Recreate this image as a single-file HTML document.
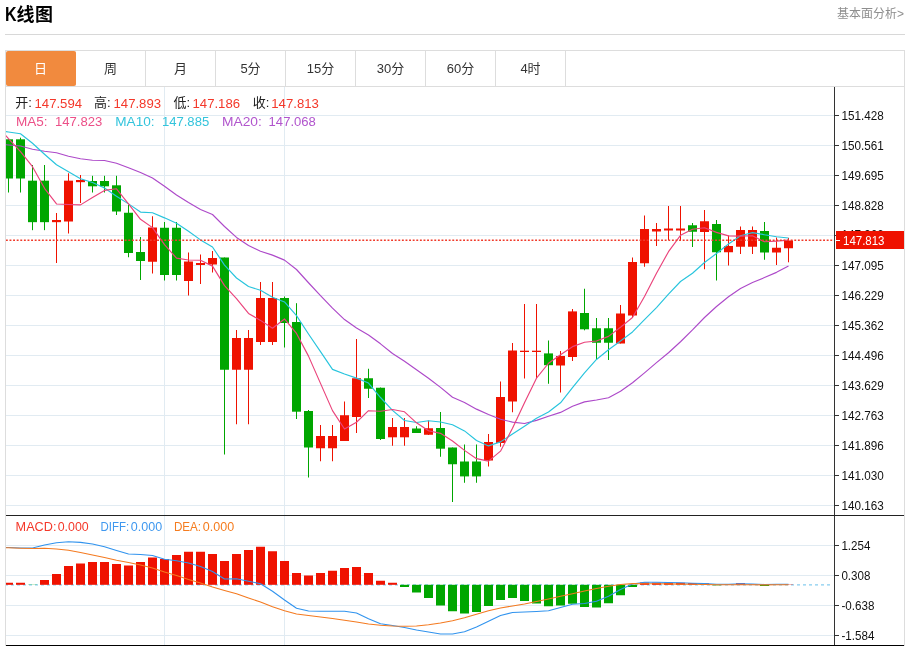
<!DOCTYPE html>
<html lang="zh-CN"><head><meta charset="utf-8"><title>K线图</title>
<style>
html,body{margin:0;padding:0;background:#fff;}
body{width:911px;height:646px;overflow:hidden;position:relative;font-family:"Liberation Sans","Noto Sans CJK SC",sans-serif;}
.title{position:absolute;left:0;top:0;font-weight:bold;color:#000;white-space:nowrap;}
.title .k{position:absolute;left:5px;top:1.65px;font-size:20px;line-height:24px;transform:scaleX(0.80);transform-origin:0 0;}
.title .cj{position:absolute;left:16.5px;top:2.9px;font-size:18px;line-height:24px;letter-spacing:0.5px;}
.more{position:absolute;right:7px;top:4.8px;font-size:12px;color:#8e8e8e;line-height:18px;white-space:nowrap;}
.hr{position:absolute;left:5px;top:34px;width:900px;height:1px;background:#d8d8d8;}
.box{position:absolute;left:5px;top:50px;width:898px;height:620px;border:1px solid #ddd;}
.tabs{position:absolute;left:0;top:0;width:898px;height:35px;border-bottom:1px solid #ddd;}
.tab{position:absolute;top:0;width:69px;height:35px;border-right:1px solid #ddd;text-align:center;line-height:36px;font-size:13px;color:#333;}
.tab.on{background:#f18a3e;color:#fff;border-radius:2px;border-right-color:#f18a3e;}
svg{position:absolute;left:0;top:0;}
.ax{font-family:"Liberation Sans",sans-serif;font-size:13px;fill:#111;}
.t13{font-family:"Liberation Sans","Noto Sans CJK SC",sans-serif;font-size:13.5px;}
.t12{font-family:"Liberation Sans","Noto Sans CJK SC",sans-serif;font-size:13px;}
</style></head><body>
<div class="title"><span class="k">K</span><span class="cj">线图</span></div>
<div class="more">基本面分析&gt;</div>
<div class="hr"></div>
<div class="box"><div class="tabs">
<div class="tab on" style="left:0">日</div>
<div class="tab" style="left:70px">周</div>
<div class="tab" style="left:140px">月</div>
<div class="tab" style="left:210px">5分</div>
<div class="tab" style="left:280px">15分</div>
<div class="tab" style="left:350px">30分</div>
<div class="tab" style="left:420px">60分</div>
<div class="tab" style="left:490px">4时</div>
</div></div>
<svg width="911" height="646" viewBox="0 0 911 646">
<defs><clipPath id="cp"><rect x="6" y="87" width="828" height="559"/></clipPath></defs>
<g clip-path="url(#cp)">
<g shape-rendering="crispEdges">
<rect x="6" y="115" width="828" height="1" fill="#e1ebf2"/>
<rect x="6" y="145" width="828" height="1" fill="#e1ebf2"/>
<rect x="6" y="175" width="828" height="1" fill="#e1ebf2"/>
<rect x="6" y="205" width="828" height="1" fill="#e1ebf2"/>
<rect x="6" y="235" width="828" height="1" fill="#e1ebf2"/>
<rect x="6" y="265" width="828" height="1" fill="#e1ebf2"/>
<rect x="6" y="295" width="828" height="1" fill="#e1ebf2"/>
<rect x="6" y="325" width="828" height="1" fill="#e1ebf2"/>
<rect x="6" y="355" width="828" height="1" fill="#e1ebf2"/>
<rect x="6" y="385" width="828" height="1" fill="#e1ebf2"/>
<rect x="6" y="415" width="828" height="1" fill="#e1ebf2"/>
<rect x="6" y="445" width="828" height="1" fill="#e1ebf2"/>
<rect x="6" y="475" width="828" height="1" fill="#e1ebf2"/>
<rect x="6" y="505" width="828" height="1" fill="#e1ebf2"/>
<rect x="6" y="545" width="828" height="1" fill="#e1ebf2"/>
<rect x="6" y="575" width="828" height="1" fill="#e1ebf2"/>
<rect x="6" y="605" width="828" height="1" fill="#e1ebf2"/>
<rect x="6" y="635" width="828" height="1" fill="#e1ebf2"/>
<rect x="164" y="87" width="1" height="558" fill="#e1ebf2"/>
<rect x="284" y="87" width="1" height="558" fill="#e1ebf2"/>
</g>
<g>
<rect x="8" y="139.30" width="1" height="53.20" fill="#00a600"/>
<rect x="4" y="139.30" width="9" height="39.20" fill="#00a600"/>
<rect x="20" y="137.67" width="1" height="54.83" fill="#00a600"/>
<rect x="16" y="139.30" width="9" height="39.20" fill="#00a600"/>
<rect x="32" y="165.00" width="1" height="65.17" fill="#00a600"/>
<rect x="28" y="180.67" width="9" height="41.50" fill="#00a600"/>
<rect x="44" y="165.00" width="1" height="65.17" fill="#00a600"/>
<rect x="40" y="180.67" width="9" height="41.50" fill="#00a600"/>
<rect x="56" y="213.00" width="1" height="50.00" fill="#ef1200"/>
<rect x="52" y="220.00" width="9" height="2.17" fill="#ef1200"/>
<rect x="68" y="173.30" width="1" height="60.20" fill="#ef1200"/>
<rect x="64" y="180.67" width="9" height="40.83" fill="#ef1200"/>
<rect x="80" y="175.00" width="1" height="28.00" fill="#ef1200"/>
<rect x="76" y="180.00" width="9" height="2.17" fill="#ef1200"/>
<rect x="92" y="175.80" width="1" height="16.70" fill="#00a600"/>
<rect x="88" y="181.00" width="9" height="5.30" fill="#00a600"/>
<rect x="104" y="175.80" width="1" height="16.70" fill="#00a600"/>
<rect x="100" y="181.00" width="9" height="5.30" fill="#00a600"/>
<rect x="116" y="175.80" width="1" height="39.20" fill="#00a600"/>
<rect x="112" y="185.30" width="9" height="26.20" fill="#00a600"/>
<rect x="128" y="205.00" width="1" height="52.25" fill="#00a600"/>
<rect x="124" y="212.75" width="9" height="40.25" fill="#00a600"/>
<rect x="140" y="237.00" width="1" height="43.00" fill="#00a600"/>
<rect x="136" y="252.00" width="9" height="9.00" fill="#00a600"/>
<rect x="152" y="216.25" width="1" height="57.25" fill="#ef1200"/>
<rect x="148" y="227.50" width="9" height="34.25" fill="#ef1200"/>
<rect x="164" y="222.00" width="1" height="58.50" fill="#00a600"/>
<rect x="160" y="227.75" width="9" height="47.25" fill="#00a600"/>
<rect x="176" y="222.00" width="1" height="58.50" fill="#00a600"/>
<rect x="172" y="227.75" width="9" height="47.25" fill="#00a600"/>
<rect x="188" y="252.50" width="1" height="43.00" fill="#ef1200"/>
<rect x="184" y="261.50" width="9" height="19.50" fill="#ef1200"/>
<rect x="200" y="254.50" width="1" height="29.50" fill="#ef1200"/>
<rect x="196" y="263.00" width="9" height="2.00" fill="#ef1200"/>
<rect x="212" y="251.00" width="1" height="21.50" fill="#ef1200"/>
<rect x="208" y="258.00" width="9" height="6.50" fill="#ef1200"/>
<rect x="224" y="257.50" width="1" height="197.00" fill="#00a600"/>
<rect x="220" y="257.50" width="9" height="112.25" fill="#00a600"/>
<rect x="236" y="330.00" width="1" height="94.25" fill="#ef1200"/>
<rect x="232" y="338.00" width="9" height="31.75" fill="#ef1200"/>
<rect x="248" y="330.00" width="1" height="94.25" fill="#ef1200"/>
<rect x="244" y="338.00" width="9" height="31.75" fill="#ef1200"/>
<rect x="260" y="282.00" width="1" height="63.00" fill="#ef1200"/>
<rect x="256" y="298.00" width="9" height="44.00" fill="#ef1200"/>
<rect x="272" y="282.00" width="1" height="63.00" fill="#ef1200"/>
<rect x="268" y="298.00" width="9" height="44.00" fill="#ef1200"/>
<rect x="284" y="296.50" width="1" height="51.00" fill="#00a600"/>
<rect x="280" y="298.00" width="9" height="25.00" fill="#00a600"/>
<rect x="296" y="303.20" width="1" height="115.80" fill="#00a600"/>
<rect x="292" y="322.00" width="9" height="89.70" fill="#00a600"/>
<rect x="308" y="410.00" width="1" height="67.50" fill="#00a600"/>
<rect x="304" y="411.00" width="9" height="36.50" fill="#00a600"/>
<rect x="320" y="425.00" width="1" height="36.25" fill="#ef1200"/>
<rect x="316" y="436.00" width="9" height="12.25" fill="#ef1200"/>
<rect x="332" y="425.00" width="1" height="36.25" fill="#ef1200"/>
<rect x="328" y="436.00" width="9" height="12.25" fill="#ef1200"/>
<rect x="344" y="401.50" width="1" height="39.50" fill="#ef1200"/>
<rect x="340" y="415.25" width="9" height="25.75" fill="#ef1200"/>
<rect x="356" y="339.00" width="1" height="94.00" fill="#ef1200"/>
<rect x="352" y="378.25" width="9" height="38.75" fill="#ef1200"/>
<rect x="368" y="368.75" width="1" height="29.25" fill="#00a600"/>
<rect x="364" y="378.25" width="9" height="10.50" fill="#00a600"/>
<rect x="380" y="387.50" width="1" height="52.50" fill="#00a600"/>
<rect x="376" y="387.75" width="9" height="51.25" fill="#00a600"/>
<rect x="392" y="418.00" width="1" height="27.75" fill="#ef1200"/>
<rect x="388" y="427.00" width="9" height="10.30" fill="#ef1200"/>
<rect x="404" y="418.00" width="1" height="27.75" fill="#ef1200"/>
<rect x="400" y="427.00" width="9" height="10.30" fill="#ef1200"/>
<rect x="416" y="426.25" width="1" height="6.75" fill="#00a600"/>
<rect x="412" y="428.50" width="9" height="4.50" fill="#00a600"/>
<rect x="428" y="420.50" width="1" height="14.50" fill="#ef1200"/>
<rect x="424" y="428.25" width="9" height="6.50" fill="#ef1200"/>
<rect x="440" y="412.00" width="1" height="44.75" fill="#00a600"/>
<rect x="436" y="428.00" width="9" height="20.70" fill="#00a600"/>
<rect x="452" y="447.50" width="1" height="54.50" fill="#00a600"/>
<rect x="448" y="447.50" width="9" height="16.75" fill="#00a600"/>
<rect x="464" y="444.50" width="1" height="38.25" fill="#00a600"/>
<rect x="460" y="461.50" width="9" height="14.90" fill="#00a600"/>
<rect x="476" y="444.50" width="1" height="38.25" fill="#00a600"/>
<rect x="472" y="461.50" width="9" height="14.90" fill="#00a600"/>
<rect x="488" y="434.00" width="1" height="32.50" fill="#ef1200"/>
<rect x="484" y="442.00" width="9" height="18.50" fill="#ef1200"/>
<rect x="500" y="381.50" width="1" height="65.25" fill="#ef1200"/>
<rect x="496" y="397.00" width="9" height="46.00" fill="#ef1200"/>
<rect x="512" y="343.00" width="1" height="69.25" fill="#ef1200"/>
<rect x="508" y="350.50" width="9" height="51.00" fill="#ef1200"/>
<rect x="524" y="304.00" width="1" height="74.50" fill="#ef1200"/>
<rect x="520" y="350.70" width="9" height="1.30" fill="#ef1200"/>
<rect x="536" y="304.00" width="1" height="74.30" fill="#ef1200"/>
<rect x="532" y="350.70" width="9" height="1.30" fill="#ef1200"/>
<rect x="548" y="340.50" width="1" height="43.25" fill="#00a600"/>
<rect x="544" y="353.40" width="9" height="11.80" fill="#00a600"/>
<rect x="560" y="351.00" width="1" height="41.50" fill="#ef1200"/>
<rect x="556" y="356.00" width="9" height="9.50" fill="#ef1200"/>
<rect x="572" y="309.00" width="1" height="52.00" fill="#ef1200"/>
<rect x="568" y="311.40" width="9" height="45.60" fill="#ef1200"/>
<rect x="584" y="288.75" width="1" height="41.55" fill="#00a600"/>
<rect x="580" y="313.00" width="9" height="16.30" fill="#00a600"/>
<rect x="596" y="318.00" width="1" height="42.00" fill="#00a600"/>
<rect x="592" y="328.25" width="9" height="14.50" fill="#00a600"/>
<rect x="608" y="318.00" width="1" height="42.00" fill="#00a600"/>
<rect x="604" y="328.25" width="9" height="14.50" fill="#00a600"/>
<rect x="620" y="305.00" width="1" height="38.50" fill="#ef1200"/>
<rect x="616" y="313.50" width="9" height="30.00" fill="#ef1200"/>
<rect x="632" y="257.50" width="1" height="59.50" fill="#ef1200"/>
<rect x="628" y="262.00" width="9" height="53.50" fill="#ef1200"/>
<rect x="644" y="215.50" width="1" height="51.25" fill="#ef1200"/>
<rect x="640" y="229.00" width="9" height="34.25" fill="#ef1200"/>
<rect x="656" y="223.00" width="1" height="23.00" fill="#ef1200"/>
<rect x="652" y="229.00" width="9" height="2.50" fill="#ef1200"/>
<rect x="668" y="206.00" width="1" height="34.00" fill="#ef1200"/>
<rect x="664" y="228.50" width="9" height="2.00" fill="#ef1200"/>
<rect x="680" y="206.00" width="1" height="34.00" fill="#ef1200"/>
<rect x="676" y="228.50" width="9" height="2.00" fill="#ef1200"/>
<rect x="692" y="223.00" width="1" height="24.00" fill="#00a600"/>
<rect x="688" y="225.25" width="9" height="6.50" fill="#00a600"/>
<rect x="704" y="210.00" width="1" height="59.25" fill="#ef1200"/>
<rect x="700" y="221.25" width="9" height="10.75" fill="#ef1200"/>
<rect x="716" y="220.00" width="1" height="60.50" fill="#00a600"/>
<rect x="712" y="224.00" width="9" height="28.25" fill="#00a600"/>
<rect x="728" y="235.50" width="1" height="30.00" fill="#ef1200"/>
<rect x="724" y="246.00" width="9" height="6.25" fill="#ef1200"/>
<rect x="740" y="226.50" width="1" height="27.50" fill="#ef1200"/>
<rect x="736" y="230.00" width="9" height="16.75" fill="#ef1200"/>
<rect x="752" y="226.50" width="1" height="27.50" fill="#ef1200"/>
<rect x="748" y="230.00" width="9" height="16.75" fill="#ef1200"/>
<rect x="764" y="222.00" width="1" height="37.75" fill="#00a600"/>
<rect x="760" y="231.00" width="9" height="21.50" fill="#00a600"/>
<rect x="776" y="237.50" width="1" height="27.50" fill="#ef1200"/>
<rect x="772" y="247.75" width="9" height="4.75" fill="#ef1200"/>
<rect x="788" y="237.90" width="1" height="24.40" fill="#ef1200"/>
<rect x="784" y="240.50" width="9" height="7.75" fill="#ef1200"/>
</g>
<line x1="5" y1="584.8" x2="832" y2="584.8" stroke="#86cdf0" stroke-width="1.3" stroke-dasharray="3 3"/>
<g>
<rect x="4" y="582.75" width="9" height="2.05" fill="#ef1200"/>
<rect x="16" y="582.75" width="9" height="2.05" fill="#ef1200"/>
<rect x="28" y="584.80" width="9" height="0.20" fill="#00a600"/>
<rect x="40" y="580.00" width="9" height="4.80" fill="#ef1200"/>
<rect x="52" y="574.00" width="9" height="10.80" fill="#ef1200"/>
<rect x="64" y="566.00" width="9" height="18.80" fill="#ef1200"/>
<rect x="76" y="563.50" width="9" height="21.30" fill="#ef1200"/>
<rect x="88" y="562.00" width="9" height="22.80" fill="#ef1200"/>
<rect x="100" y="562.00" width="9" height="22.80" fill="#ef1200"/>
<rect x="112" y="564.00" width="9" height="20.80" fill="#ef1200"/>
<rect x="124" y="565.50" width="9" height="19.30" fill="#ef1200"/>
<rect x="136" y="562.00" width="9" height="22.80" fill="#ef1200"/>
<rect x="148" y="557.50" width="9" height="27.30" fill="#ef1200"/>
<rect x="160" y="559.00" width="9" height="25.80" fill="#ef1200"/>
<rect x="172" y="555.00" width="9" height="29.80" fill="#ef1200"/>
<rect x="184" y="551.75" width="9" height="33.05" fill="#ef1200"/>
<rect x="196" y="551.75" width="9" height="33.05" fill="#ef1200"/>
<rect x="208" y="554.00" width="9" height="30.80" fill="#ef1200"/>
<rect x="220" y="561.00" width="9" height="23.80" fill="#ef1200"/>
<rect x="232" y="554.00" width="9" height="30.80" fill="#ef1200"/>
<rect x="244" y="550.00" width="9" height="34.80" fill="#ef1200"/>
<rect x="256" y="546.75" width="9" height="38.05" fill="#ef1200"/>
<rect x="268" y="551.25" width="9" height="33.55" fill="#ef1200"/>
<rect x="280" y="561.00" width="9" height="23.80" fill="#ef1200"/>
<rect x="292" y="573.00" width="9" height="11.80" fill="#ef1200"/>
<rect x="304" y="575.50" width="9" height="9.30" fill="#ef1200"/>
<rect x="316" y="573.00" width="9" height="11.80" fill="#ef1200"/>
<rect x="328" y="570.75" width="9" height="14.05" fill="#ef1200"/>
<rect x="340" y="568.00" width="9" height="16.80" fill="#ef1200"/>
<rect x="352" y="567.00" width="9" height="17.80" fill="#ef1200"/>
<rect x="364" y="573.00" width="9" height="11.80" fill="#ef1200"/>
<rect x="376" y="580.75" width="9" height="4.05" fill="#ef1200"/>
<rect x="388" y="582.75" width="9" height="2.05" fill="#ef1200"/>
<rect x="400" y="584.80" width="9" height="2.20" fill="#00a600"/>
<rect x="412" y="584.80" width="9" height="7.70" fill="#00a600"/>
<rect x="424" y="584.80" width="9" height="13.20" fill="#00a600"/>
<rect x="436" y="584.80" width="9" height="20.70" fill="#00a600"/>
<rect x="448" y="584.80" width="9" height="26.45" fill="#00a600"/>
<rect x="460" y="584.80" width="9" height="28.70" fill="#00a600"/>
<rect x="472" y="584.80" width="9" height="27.20" fill="#00a600"/>
<rect x="484" y="584.80" width="9" height="21.20" fill="#00a600"/>
<rect x="496" y="584.80" width="9" height="15.20" fill="#00a600"/>
<rect x="508" y="584.80" width="9" height="13.20" fill="#00a600"/>
<rect x="520" y="584.80" width="9" height="16.20" fill="#00a600"/>
<rect x="532" y="584.80" width="9" height="18.70" fill="#00a600"/>
<rect x="544" y="584.80" width="9" height="21.45" fill="#00a600"/>
<rect x="556" y="584.80" width="9" height="20.70" fill="#00a600"/>
<rect x="568" y="584.80" width="9" height="18.95" fill="#00a600"/>
<rect x="580" y="584.80" width="9" height="22.20" fill="#00a600"/>
<rect x="592" y="584.80" width="9" height="22.70" fill="#00a600"/>
<rect x="604" y="584.80" width="9" height="18.45" fill="#00a600"/>
<rect x="616" y="584.80" width="9" height="10.45" fill="#00a600"/>
<rect x="628" y="584.80" width="9" height="2.20" fill="#00a600"/>
<rect x="640" y="582.50" width="9" height="2.30" fill="#ef1200"/>
<rect x="652" y="582.70" width="9" height="2.10" fill="#ef1200"/>
<rect x="664" y="582.70" width="9" height="2.10" fill="#ef1200"/>
<rect x="676" y="582.80" width="9" height="2.00" fill="#ef1200"/>
<rect x="688" y="583.00" width="9" height="1.80" fill="#ef1200"/>
<rect x="700" y="583.30" width="9" height="1.50" fill="#ef1200"/>
<rect x="712" y="584.80" width="9" height="0.50" fill="#00a600"/>
<rect x="724" y="584.50" width="9" height="0.30" fill="#ef1200"/>
<rect x="736" y="583.20" width="9" height="1.60" fill="#ef1200"/>
<rect x="748" y="584.50" width="9" height="0.30" fill="#ef1200"/>
<rect x="760" y="584.80" width="9" height="1.20" fill="#00a600"/>
<rect x="784" y="584.50" width="9" height="0.30" fill="#ef1200"/>
</g>
<polyline points="-3.5,143.80 8.5,145.00 20.5,146.00 32.5,149.20 44.5,151.30 56.5,152.70 68.5,156.30 80.5,158.70 92.5,160.30 104.5,160.50 116.5,163.30 128.5,167.70 140.5,172.50 152.5,178.00 164.5,186.25 176.5,195.00 188.5,202.50 200.5,209.50 212.5,214.50 224.5,226.50 236.5,237.42 248.5,245.59 260.5,251.32 272.5,255.10 284.5,260.13 296.5,269.51 308.5,282.76 320.5,295.68 332.5,308.17 344.5,319.56 356.5,328.00 368.5,334.97 380.5,343.83 392.5,353.50 404.5,361.33 416.5,369.81 428.5,378.25 440.5,387.41 452.5,397.20 464.5,402.45 476.5,409.14 488.5,414.48 500.5,419.25 512.5,422.10 524.5,423.51 536.5,420.35 548.5,416.26 560.5,412.39 572.5,406.28 584.5,401.87 596.5,399.97 608.5,397.69 620.5,391.23 632.5,382.79 644.5,372.87 656.5,362.66 668.5,352.79 680.5,341.72 692.5,329.88 704.5,317.50 716.5,306.46 728.5,296.74 740.5,288.41 752.5,282.52 764.5,277.59 776.5,272.35 788.5,266.11" fill="none" stroke="#ad49c9" stroke-width="1.15" stroke-linejoin="round"/><polyline points="-3.5,130.30 8.5,132.00 20.5,133.70 32.5,143.30 44.5,154.20 56.5,164.70 68.5,171.70 80.5,178.70 92.5,182.50 104.5,188.00 116.5,196.21 128.5,203.87 140.5,212.06 152.5,212.76 164.5,217.85 176.5,223.35 188.5,231.28 200.5,239.88 212.5,246.95 224.5,265.08 236.5,278.01 248.5,286.57 260.5,290.28 272.5,297.32 284.5,301.98 296.5,315.67 308.5,334.00 320.5,351.60 332.5,369.38 344.5,374.05 356.5,378.13 368.5,383.06 380.5,397.51 392.5,410.43 404.5,420.48 416.5,422.52 428.5,420.70 440.5,422.03 452.5,424.77 464.5,430.92 476.5,440.47 488.5,445.90 500.5,441.88 512.5,434.08 524.5,426.29 536.5,418.24 548.5,411.95 560.5,402.81 572.5,387.60 584.5,372.81 596.5,359.48 608.5,349.72 620.5,340.96 632.5,331.95 644.5,319.69 656.5,307.57 668.5,294.06 680.5,281.50 692.5,273.28 704.5,262.49 716.5,253.51 728.5,244.07 740.5,235.74 752.5,232.59 764.5,234.79 776.5,236.70 788.5,238.04" fill="none" stroke="#27c4dd" stroke-width="1.15" stroke-linejoin="round"/><polyline points="-3.5,124.80 8.5,138.70 20.5,151.70 32.5,166.70 44.5,188.30 56.5,203.95 68.5,204.48 80.5,204.88 92.5,197.55 104.5,190.42 116.5,188.79 128.5,203.81 140.5,219.34 152.5,227.64 164.5,244.70 176.5,258.10 188.5,260.00 200.5,260.30 212.5,266.12 224.5,285.65 236.5,298.54 248.5,313.45 260.5,320.39 272.5,328.26 284.5,318.94 296.5,333.43 308.5,356.11 320.5,383.37 332.5,410.63 344.5,429.03 356.5,422.26 368.5,410.70 380.5,411.21 392.5,409.49 404.5,411.81 416.5,422.84 428.5,430.76 440.5,433.34 452.5,440.93 464.5,450.40 476.5,458.66 488.5,461.16 500.5,451.16 512.5,428.22 524.5,402.87 536.5,378.13 548.5,363.24 560.5,354.78 572.5,346.66 584.5,342.20 596.5,341.01 608.5,336.39 620.5,327.20 632.5,317.55 644.5,296.50 656.5,273.31 668.5,251.68 680.5,235.36 692.5,229.20 704.5,227.73 716.5,232.34 728.5,235.84 740.5,236.06 752.5,235.80 764.5,241.80 776.5,241.06 788.5,240.11" fill="none" stroke="#ea437b" stroke-width="1.15" stroke-linejoin="round"/>
<polyline points="-3.5,547.30 8.5,547.50 20.5,548.00 32.5,548.00 44.5,545.00 56.5,542.80 68.5,541.70 80.5,542.40 92.5,544.00 104.5,546.75 116.5,550.50 128.5,554.00 140.5,554.50 152.5,555.50 164.5,559.25 176.5,560.75 188.5,563.00 200.5,566.50 212.5,571.50 224.5,579.00 236.5,578.75 248.5,581.25 260.5,583.75 272.5,591.25 284.5,600.00 296.5,608.25 308.5,611.00 320.5,611.25 332.5,611.25 344.5,611.25 356.5,613.00 368.5,618.75 380.5,623.75 392.5,625.50 404.5,627.50 416.5,630.00 428.5,632.00 440.5,634.00 452.5,634.00 464.5,631.75 476.5,627.00 488.5,621.25 500.5,615.50 512.5,612.50 524.5,612.00 536.5,611.50 548.5,610.75 560.5,607.50 572.5,604.25 584.5,603.50 596.5,601.25 608.5,596.25 620.5,589.50 632.5,584.00 644.5,582.30 656.5,582.30 668.5,582.50 680.5,582.80 692.5,583.20 704.5,583.60 716.5,584.30 728.5,584.30 740.5,583.80 752.5,584.00 764.5,584.50 776.5,584.30 788.5,584.20" fill="none" stroke="#3093ee" stroke-width="1.08" stroke-linejoin="round"/><polyline points="-3.5,547.60 8.5,547.75 20.5,548.25 32.5,548.50 44.5,548.25 56.5,549.00 68.5,550.25 80.5,552.50 92.5,555.00 104.5,557.50 116.5,560.25 128.5,562.50 140.5,565.00 152.5,568.00 164.5,572.00 176.5,575.50 188.5,579.50 200.5,583.00 212.5,587.00 224.5,590.50 236.5,593.75 248.5,598.00 260.5,602.00 272.5,606.75 284.5,610.75 296.5,614.00 308.5,615.50 320.5,617.00 332.5,618.50 344.5,620.25 356.5,622.00 368.5,624.00 380.5,625.25 392.5,626.00 404.5,626.25 416.5,626.00 428.5,624.75 440.5,623.00 452.5,620.75 464.5,617.75 476.5,614.25 488.5,610.75 500.5,608.00 512.5,606.00 524.5,604.00 536.5,601.50 548.5,599.00 560.5,596.25 572.5,593.75 584.5,591.00 596.5,588.50 608.5,586.25 620.5,584.50 632.5,583.60 644.5,583.80 656.5,583.80 668.5,583.90 680.5,584.10 692.5,584.30 704.5,584.50 716.5,584.70 728.5,584.80 740.5,584.70 752.5,584.80 764.5,584.90 776.5,584.80 788.5,584.80" fill="none" stroke="#f47a20" stroke-width="1.08" stroke-linejoin="round"/>
<line x1="5.9" y1="240.25" x2="834" y2="240.25" stroke="#f03a2a" stroke-width="1.3" stroke-dasharray="1.9 1.7"/>
</g>
<g shape-rendering="crispEdges">
<rect x="834" y="87" width="1" height="559" fill="#333"/>
<rect x="6" y="515" width="898" height="1" fill="#222"/>
<rect x="6" y="645" width="898" height="1" fill="#000"/>
</g>
<rect x="835" y="115" width="4" height="1" fill="#333"/>
<text x="841.4" y="119.6" class="ax" textLength="42.3" lengthAdjust="spacingAndGlyphs">151.428</text>
<rect x="835" y="145" width="4" height="1" fill="#333"/>
<text x="841.4" y="149.6" class="ax" textLength="42.3" lengthAdjust="spacingAndGlyphs">150.561</text>
<rect x="835" y="175" width="4" height="1" fill="#333"/>
<text x="841.4" y="179.6" class="ax" textLength="42.3" lengthAdjust="spacingAndGlyphs">149.695</text>
<rect x="835" y="205" width="4" height="1" fill="#333"/>
<text x="841.4" y="209.6" class="ax" textLength="42.3" lengthAdjust="spacingAndGlyphs">148.828</text>
<rect x="835" y="235" width="4" height="1" fill="#333"/>
<text x="841.4" y="239.0" class="ax" textLength="42.3" lengthAdjust="spacingAndGlyphs">147.962</text>
<rect x="835" y="265" width="4" height="1" fill="#333"/>
<text x="841.4" y="269.6" class="ax" textLength="42.3" lengthAdjust="spacingAndGlyphs">147.095</text>
<rect x="835" y="295" width="4" height="1" fill="#333"/>
<text x="841.4" y="299.6" class="ax" textLength="42.3" lengthAdjust="spacingAndGlyphs">146.229</text>
<rect x="835" y="325" width="4" height="1" fill="#333"/>
<text x="841.4" y="329.6" class="ax" textLength="42.3" lengthAdjust="spacingAndGlyphs">145.362</text>
<rect x="835" y="355" width="4" height="1" fill="#333"/>
<text x="841.4" y="359.6" class="ax" textLength="42.3" lengthAdjust="spacingAndGlyphs">144.496</text>
<rect x="835" y="385" width="4" height="1" fill="#333"/>
<text x="841.4" y="389.6" class="ax" textLength="42.3" lengthAdjust="spacingAndGlyphs">143.629</text>
<rect x="835" y="415" width="4" height="1" fill="#333"/>
<text x="841.4" y="419.6" class="ax" textLength="42.3" lengthAdjust="spacingAndGlyphs">142.763</text>
<rect x="835" y="445" width="4" height="1" fill="#333"/>
<text x="841.4" y="449.6" class="ax" textLength="42.3" lengthAdjust="spacingAndGlyphs">141.896</text>
<rect x="835" y="475" width="4" height="1" fill="#333"/>
<text x="841.4" y="479.6" class="ax" textLength="42.3" lengthAdjust="spacingAndGlyphs">141.030</text>
<rect x="835" y="505" width="4" height="1" fill="#333"/>
<text x="841.4" y="509.6" class="ax" textLength="42.3" lengthAdjust="spacingAndGlyphs">140.163</text>
<rect x="835" y="545" width="4" height="1" fill="#333"/>
<text x="841.4" y="549.6" class="ax" textLength="29" lengthAdjust="spacingAndGlyphs">1.254</text>
<rect x="835" y="575" width="4" height="1" fill="#333"/>
<text x="841.4" y="579.6" class="ax" textLength="29" lengthAdjust="spacingAndGlyphs">0.308</text>
<rect x="835" y="605" width="4" height="1" fill="#333"/>
<text x="841.4" y="609.6" class="ax" textLength="33" lengthAdjust="spacingAndGlyphs">-0.638</text>
<rect x="835" y="635" width="4" height="1" fill="#333"/>
<text x="841.4" y="639.6" class="ax" textLength="33" lengthAdjust="spacingAndGlyphs">-1.584</text>
<rect x="836" y="231" width="68" height="18" fill="#ef1200" shape-rendering="crispEdges"/>
<rect x="836" y="240" width="4" height="1" fill="#fff" shape-rendering="crispEdges"/>
<text x="843" y="244.8" class="ax" style="fill:#fff;font-size:12px" textLength="41.5" lengthAdjust="spacingAndGlyphs">147.813</text>
<g class="t13">
<text x="15.3" y="106.8" fill="#222" style="font-size:13px">开:</text><text x="34.5" y="107.7" fill="#f4382a" textLength="47.6" lengthAdjust="spacingAndGlyphs">147.594</text>
<text x="94.1" y="106.8" fill="#222" style="font-size:13px">高:</text><text x="113.5" y="107.7" fill="#f4382a" textLength="47.6" lengthAdjust="spacingAndGlyphs">147.893</text>
<text x="173.5" y="106.8" fill="#222" style="font-size:13px">低:</text><text x="192.5" y="107.7" fill="#f4382a" textLength="47.6" lengthAdjust="spacingAndGlyphs">147.186</text>
<text x="252.8" y="106.8" fill="#222" style="font-size:13px">收:</text><text x="271.3" y="107.7" fill="#f4382a" textLength="47.6" lengthAdjust="spacingAndGlyphs">147.813</text>
</g>
<g class="t12">
<text x="16" y="125.7" fill="#ec5088" textLength="31.6" lengthAdjust="spacingAndGlyphs">MA5:</text><text x="55" y="125.7" fill="#ec5088" textLength="47.3" lengthAdjust="spacingAndGlyphs">147.823</text>
<text x="115.3" y="125.7" fill="#33c4dc" textLength="39.3" lengthAdjust="spacingAndGlyphs">MA10:</text><text x="161.9" y="125.7" fill="#33c4dc" textLength="47.3" lengthAdjust="spacingAndGlyphs">147.885</text>
<text x="222" y="125.7" fill="#b155cd" textLength="39.8" lengthAdjust="spacingAndGlyphs">MA20:</text><text x="268.6" y="125.7" fill="#b155cd" textLength="47.3" lengthAdjust="spacingAndGlyphs">147.068</text>
<text x="15.6" y="531.2" fill="#f4382a" textLength="40.8" lengthAdjust="spacingAndGlyphs" style="font-size:13.5px">MACD:</text><text x="57.7" y="531.2" fill="#f4382a" textLength="31" lengthAdjust="spacingAndGlyphs" style="font-size:13.5px">0.000</text>
<text x="100.6" y="531.2" fill="#3f98ef" textLength="28.6" lengthAdjust="spacingAndGlyphs" style="font-size:13.5px">DIFF:</text><text x="130.8" y="531.2" fill="#3f98ef" textLength="31.3" lengthAdjust="spacingAndGlyphs" style="font-size:13.5px">0.000</text>
<text x="173.9" y="531.2" fill="#f57c1f" textLength="27.2" lengthAdjust="spacingAndGlyphs" style="font-size:13.5px">DEA:</text><text x="202.8" y="531.2" fill="#f57c1f" textLength="31.3" lengthAdjust="spacingAndGlyphs" style="font-size:13.5px">0.000</text>
</g>
</svg>
</body></html>
